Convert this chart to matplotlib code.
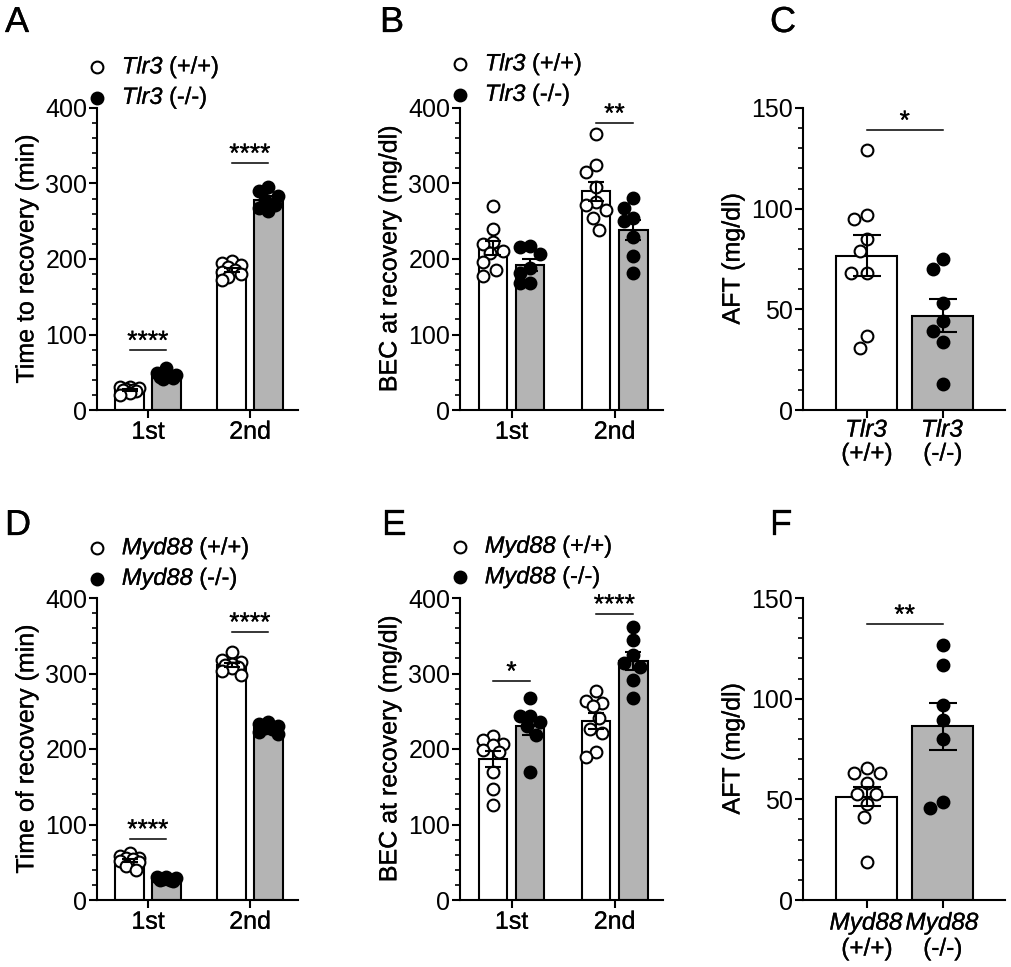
import numpy as np
import matplotlib
matplotlib.use('Agg')
import matplotlib.pyplot as plt
import matplotlib.patheffects as pe
from matplotlib.text import Text
from matplotlib.ticker import MultipleLocator

plt.rcParams['font.family'] = ['Liberation Sans', 'DejaVu Sans']
plt.rcParams['mathtext.fontset'] = 'custom'
# gene names are italic, digits included
plt.rcParams['mathtext.rm'] = 'Liberation Sans:italic'
plt.rcParams['mathtext.it'] = 'Liberation Sans:italic'

sessions = ['1st', '2nd']

# A: Tlr3, time to recovery (min), per session
a_wt = [[31, 30, 29, 28, 27, 26, 25, 23, 20], [197, 195, 192, 190, 186, 183, 180, 176, 172]]
a_ko = [[56, 49, 47, 45, 44, 43, 41], [296, 290, 283, 278, 272, 268, 264]]
a_sig = ['****', '****']
a_sig_y = [79, 327]

# B: Tlr3, BEC at recovery (mg/dl)
b_wt = [[270, 240, 223, 220, 210, 208, 196, 185, 178], [365, 324, 315, 295, 276, 272, 265, 254, 239]]
b_ko = [[217, 216, 207, 188, 182, 168, 168], [281, 268, 254, 250, 229, 204, 181]]
b_sig = ['', '**']
b_sig_y = [None, 380]

# C: Tlr3, AFT (mg/dl)
c_wt = [129, 97, 95, 85, 79, 68, 68, 37, 31]
c_ko = [75, 70, 53, 44, 39, 34, 13]
c_sig = '*'
c_sig_y = 139

# D: Myd88, time of recovery (min)
d_wt = [[62, 58, 56, 55, 54, 52, 50, 45, 40], [329, 318, 315, 313, 311, 309, 307, 303, 298]]
d_ko = [[31, 30, 29, 28, 27, 26, 25], [236, 233, 230, 228, 226, 223, 220]]
d_sig = ['****', '****']
d_sig_y = [81, 355]

# E: Myd88, BEC at recovery (mg/dl)
e_wt = [[217, 212, 207, 205, 199, 196, 170, 147, 126], [277, 263, 261, 257, 241, 227, 221, 196, 190]]
e_ko = [[268, 244, 244, 236, 230, 218, 170], [362, 344, 324, 314, 309, 292, 267]]
e_sig = ['*', '****']
e_sig_y = [290, 379]

# F: Myd88, AFT (mg/dl)
f_wt = [65.5, 63, 63, 58, 52.7, 52.7, 47.6, 41.4, 18.7]
f_ko = [126.5, 116.7, 97, 89.5, 80, 48.7, 45.6]
f_sig = '**'
f_sig_y = 137

GRAY = '#b4b4b4'
FS = 18
MS = 72  # scatter size, pt^2


def sem(v):
    v = np.asarray(v, float)
    return v.std(ddof=1) / np.sqrt(len(v))


def swarm(ax, xc, vals, half):
    # spread overlapping points sideways inside the bar (pixel space)
    diam = np.sqrt(MS) * 100 / 72.0 + 1
    pts = ax.transData.transform([(xc, v) for v in vals])
    px0 = pts[0, 0]
    maxoff = px0 - ax.transData.transform((xc - half, 0))[0] - diam * 0.3
    step = diam / 4
    cands = [0.0]
    k = 1
    while k * step <= maxoff:
        cands += [-k * step, k * step]
        k += 1
    placed = []
    xs = np.zeros(len(vals))
    for i in np.argsort(vals)[::-1]:
        py = pts[i, 1]
        best, bestd = 0.0, -1
        for c in cands:
            d = min([np.hypot(px0 + c - qx, py - qy) for qx, qy in placed] or [1e9])
            if d >= diam:
                best = c
                break
            if d > bestd:
                best, bestd = c, d
        placed.append((px0 + best, py))
        xs[i] = ax.transData.inverted().transform((px0 + best, py))[0]
    return xs


def style_axis(ax, ymax, major, minor, ylabel):
    ax.set_ylim(0, ymax)
    ax.yaxis.set_major_locator(MultipleLocator(major))
    ax.yaxis.set_minor_locator(MultipleLocator(minor))
    for s in ['top', 'right']:
        ax.spines[s].set_visible(False)
    for s in ['left', 'bottom']:
        ax.spines[s].set_linewidth(1.5)
    ax.tick_params(axis='both', which='major', width=1.5, length=6, labelsize=FS, pad=1)
    ax.tick_params(axis='y', which='minor', width=1.2, length=3.5)
    ax.tick_params(axis='x', which='minor', length=0)
    ax.set_ylabel(ylabel, fontsize=FS, labelpad=5)


def sig(ax, x1, x2, y, label):
    ax.plot([x1, x2], [y, y], color='black', lw=1.1, zorder=5)
    ax.annotate(label, ((x1 + x2) / 2, y), xytext=(0, 1), textcoords='offset points',
                ha='center', va='baseline', fontsize=19, zorder=5)


def grouped(ax, wt, ko, sigs, sig_ys, ylabel, gene, leg_y):
    x = np.arange(len(sessions))
    off, w = 0.18, 0.28
    ax.set_xlim(-0.5, 1.47)
    style_axis(ax, 400, 100, 20, ylabel)
    for i in x:
        for vals, dx, fc in [(wt[i], -off, 'white'), (ko[i], off, GRAY)]:
            m = np.mean(vals)
            ax.bar(i + dx, m, width=w, color=fc, edgecolor='black', linewidth=1.5, zorder=1)
            xs = swarm(ax, i + dx, vals, w / 2)
            mk = ax.scatter(xs, vals, s=MS, facecolor='white' if fc == 'white' else 'black',
                            edgecolor='black', linewidths=1.5, zorder=3, clip_on=False)
            if fc == 'white':
                h_wt = mk
            else:
                h_ko = mk
            ax.errorbar(i + dx, m, yerr=sem(vals), fmt='none', ecolor='black',
                        elinewidth=1.5, capsize=6, capthick=1.5, zorder=4)
        if sigs[i]:
            sig(ax, i - off, i + off, sig_ys[i], sigs[i])
    ax.set_xticks(x)
    ax.set_xticklabels(sessions)
    ax.legend([h_wt, h_ko], [r'$\mathrm{%s}$ (+/+)' % gene, r'$\mathrm{%s}$ (-/-)' % gene],
              loc='lower left', bbox_to_anchor=(-0.035, leg_y), frameon=False,
              borderpad=0, borderaxespad=0, handlelength=0.6, handletextpad=0.75,
              labelspacing=0.15, scatterpoints=1, fontsize=17)


def pair(ax, wt, ko, label, y, gene):
    x = np.arange(2)
    w = 0.8
    ax.set_xlim(-0.84, 1.82)
    style_axis(ax, 150, 50, 10, 'AFT (mg/dl)')
    for i, vals, fc in [(0, wt, 'white'), (1, ko, GRAY)]:
        m = np.mean(vals)
        ax.bar(i, m, width=w, color=fc, edgecolor='black', linewidth=1.5, zorder=1)
        xs = swarm(ax, i, vals, w / 2)
        ax.scatter(xs, vals, s=MS, facecolor='white' if fc == 'white' else 'black',
                   edgecolor='black', linewidths=1.5, zorder=3)
        ax.errorbar(i, m, yerr=sem(vals), fmt='none', ecolor='black',
                    elinewidth=1.5, capsize=10, capthick=1.5, zorder=4)
    sig(ax, 0, 1, y, label)
    ax.set_xticks(x)
    ax.set_xticklabels([r'$\mathrm{%s}$' % gene + '\n(+/+)', r'$\mathrm{%s}$' % gene + '\n(-/-)'],
                       linespacing=1.1, fontsize=17.5)


fig = plt.figure(figsize=(10.12, 9.67), dpi=100)
W, H = 1012.0, 967.0
top_b, bot_b = 1 - 410 / H, 1 - 900 / H
h = 302 / H
lefts = [97 / W, 460 / W, 803 / W]
widths = [201 / W, 203 / W, 202 / W]

axA = fig.add_axes([lefts[0], top_b, widths[0], h])
axB = fig.add_axes([lefts[1], top_b, widths[1], h])
axC = fig.add_axes([lefts[2], top_b, widths[2], h])
axD = fig.add_axes([lefts[0], bot_b, widths[0], h])
axE = fig.add_axes([lefts[1], bot_b, widths[1], h])
axF = fig.add_axes([lefts[2], bot_b, widths[2], h])

grouped(axA, a_wt, a_ko, a_sig, a_sig_y, 'Time to recovery (min)', 'Tlr3', 0.99)
grouped(axB, b_wt, b_ko, b_sig, b_sig_y, 'BEC at recovery (mg/dl)', 'Tlr3', 1.0)
pair(axC, c_wt, c_ko, c_sig, c_sig_y, 'Tlr3')
grouped(axD, d_wt, d_ko, d_sig, d_sig_y, 'Time of recovery (min)', 'Myd88', 1.02)
grouped(axE, e_wt, e_ko, e_sig, e_sig_y, 'BEC at recovery (mg/dl)', 'Myd88', 1.025)
pair(axF, f_wt, f_ko, f_sig, f_sig_y, 'Myd88')

for lab, px, py in [('A', 5, 32), ('B', 380, 32), ('C', 770, 32),
                    ('D', 5, 535), ('E', 382, 535), ('F', 770, 535)]:
    fig.text(px / W, 1 - py / H, lab, fontsize=26, va='baseline', ha='left')

# the scanned figure has slightly heavier type
for t in fig.findobj(Text):
    if t.get_text():
        t.set_path_effects([pe.withStroke(linewidth=0.2, foreground='black')])

fig.savefig('out.png', dpi=100)
